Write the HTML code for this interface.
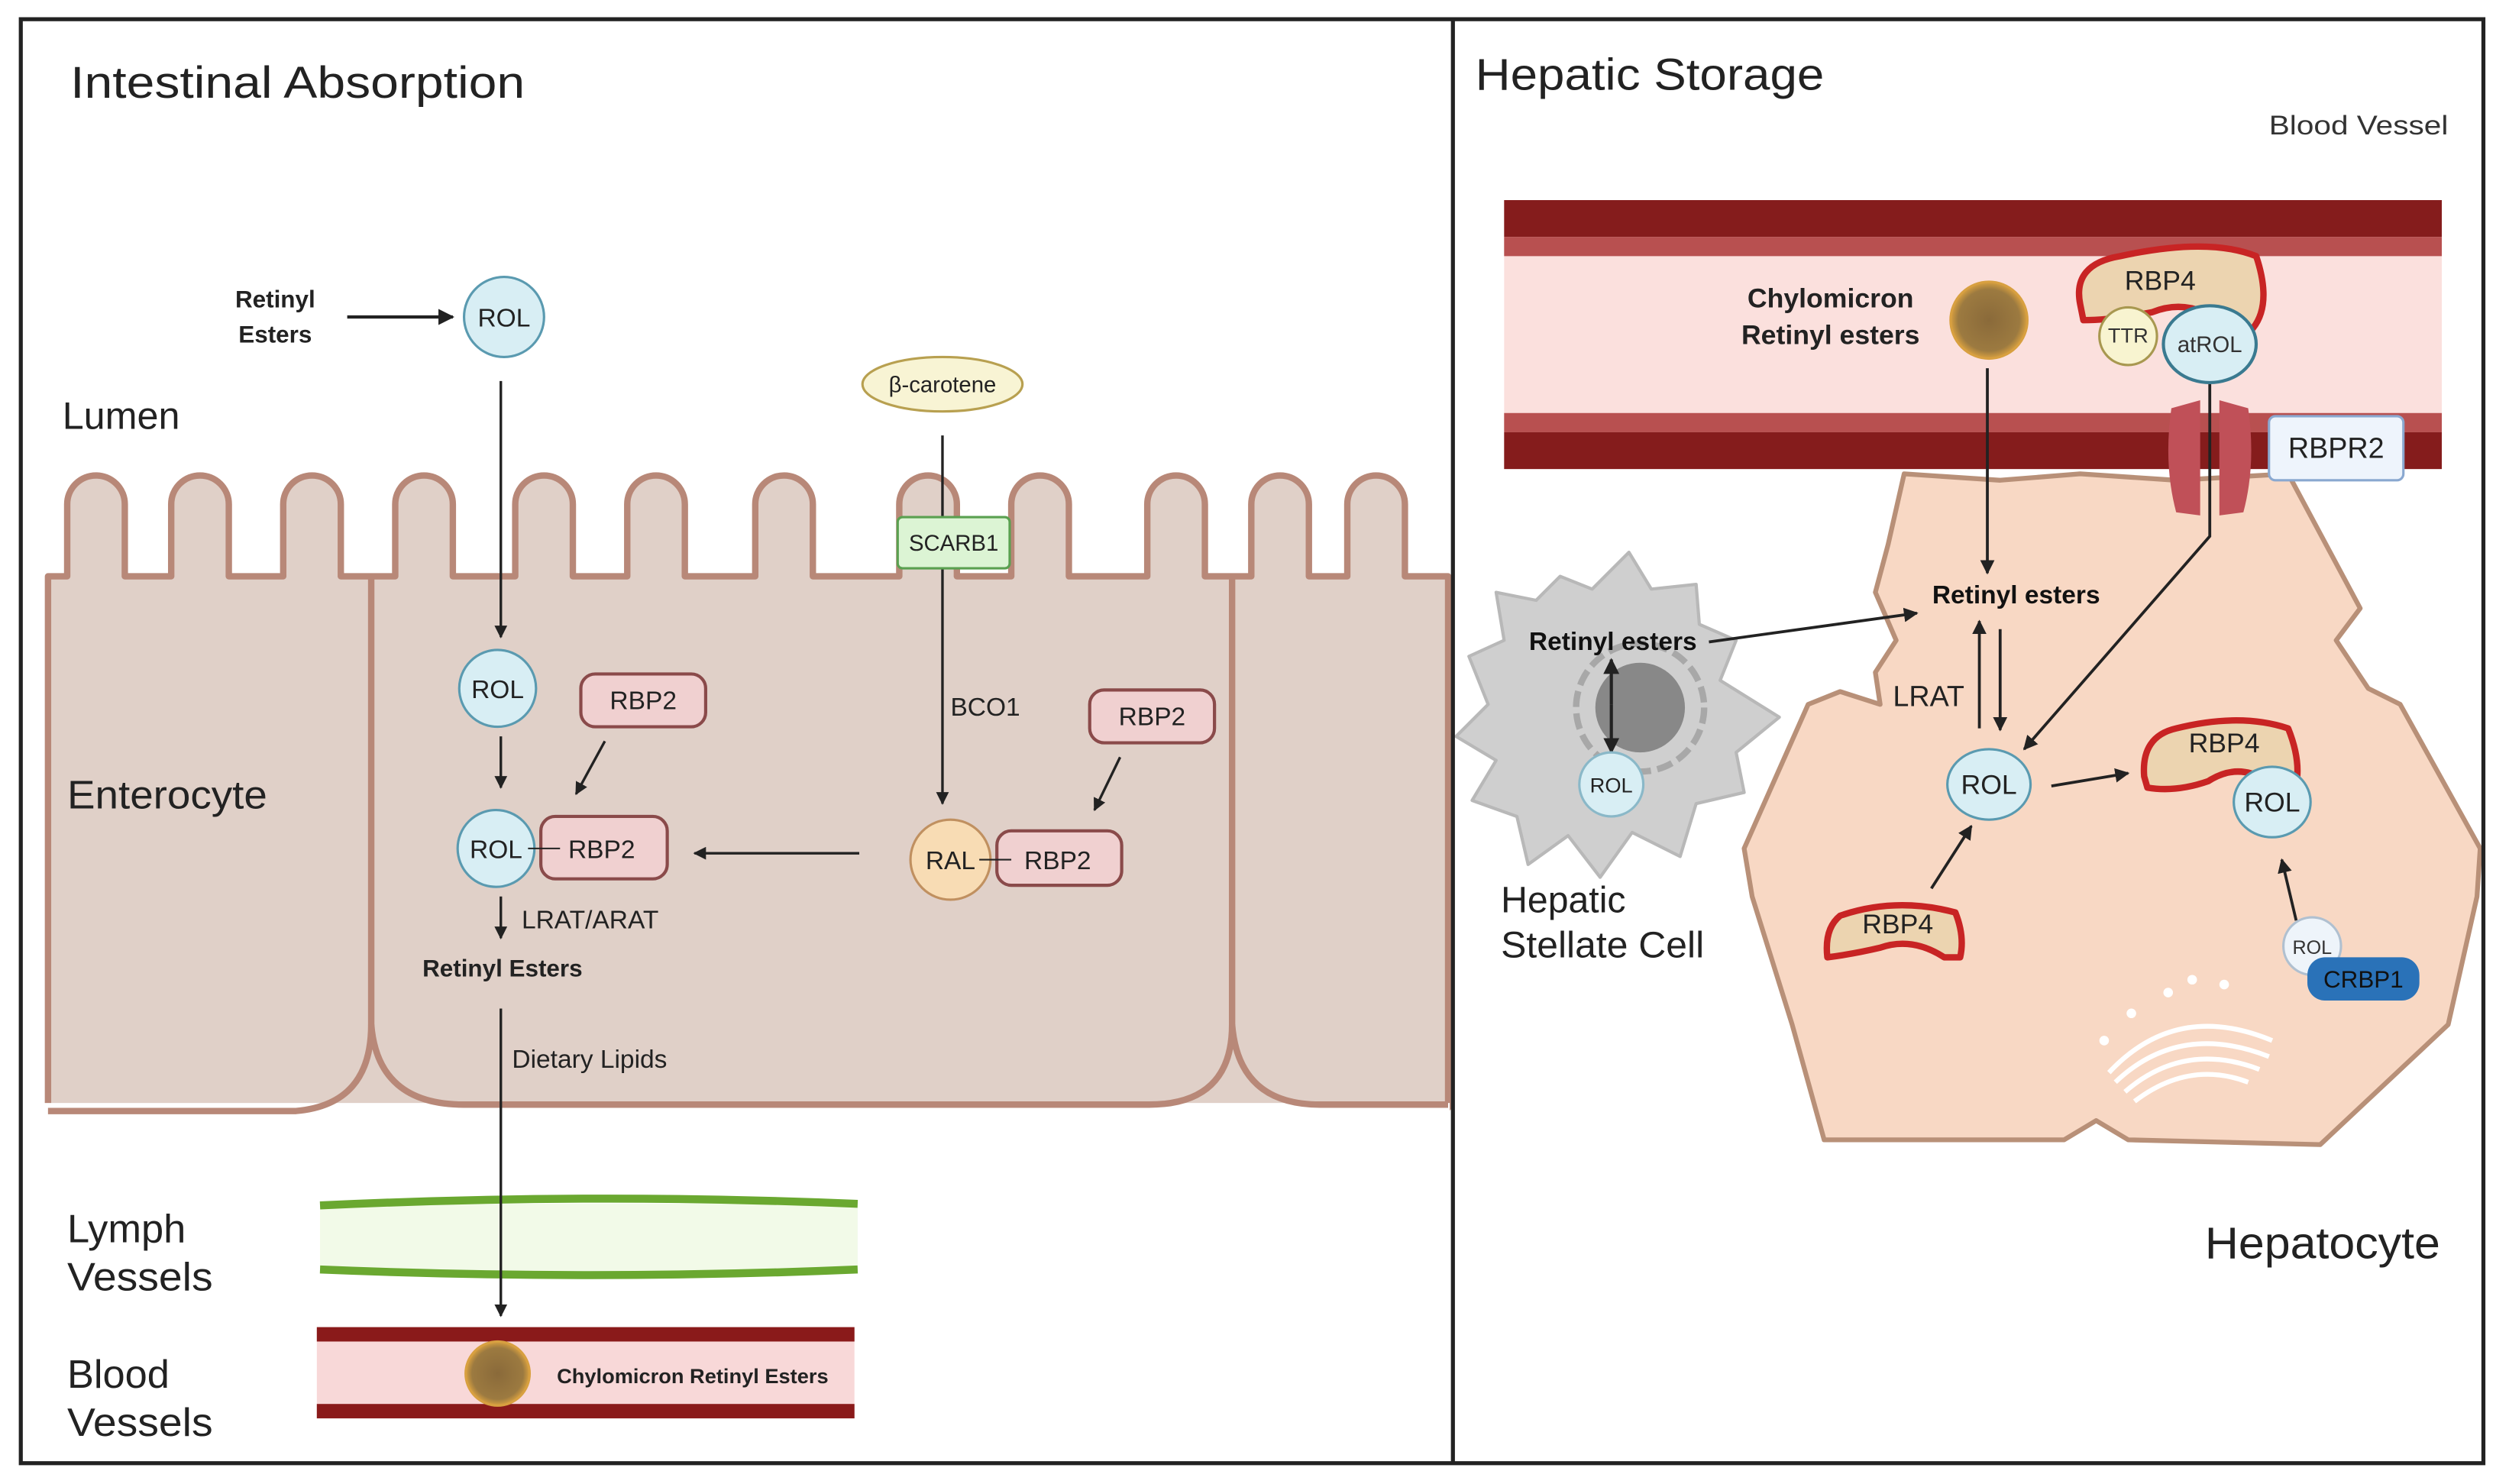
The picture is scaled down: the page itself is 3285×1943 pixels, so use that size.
<!DOCTYPE html>
<html><head><meta charset="utf-8"><style>
html,body{margin:0;padding:0;background:#fff;}
svg{display:block;}
text{font-family:"Liberation Sans",sans-serif;}
</style></head><body>
<svg width="3285" height="1943" viewBox="0 0 1568 927" preserveAspectRatio="none" xmlns="http://www.w3.org/2000/svg">
<defs>
<marker id="a" viewBox="0 0 10 10" refX="9" refY="5" markerWidth="5" markerHeight="5" orient="auto"><path d="M0,0 L10,5 L0,10 z" fill="#222"/></marker>
<radialGradient id="chy"><stop offset="0" stop-color="#8a6a3a"/><stop offset="0.8" stop-color="#9c7a40"/><stop offset="1" stop-color="#d8a040"/></radialGradient>
</defs>
<rect x="0" y="0" width="1568" height="927" fill="#fff"/>

<text x="44" y="61" font-size="28" fill="#222" textLength="284" lengthAdjust="spacingAndGlyphs">Intestinal Absorption</text>

<path d="M30,690 L30,360
L42,360 L42,315 A18,18 0 0 1 78,315 L78,360
L107,360 L107,315 A18,18 0 0 1 143,315 L143,360
L177,360 L177,315 A18,18 0 0 1 213,315 L213,360
L247,360 L247,315 A18,18 0 0 1 283,315 L283,360
L322,360 L322,315 A18,18 0 0 1 358,315 L358,360
L392,360 L392,315 A18,18 0 0 1 428,315 L428,360
L472,360 L472,315 A18,18 0 0 1 508,315 L508,360
L562,360 L562,315 A18,18 0 0 1 598,315 L598,360
L632,360 L632,315 A18,18 0 0 1 668,315 L668,360
L717,360 L717,315 A18,18 0 0 1 753,315 L753,360
L782,360 L782,315 A18,18 0 0 1 818,315 L818,360
L842,360 L842,315 A18,18 0 0 1 878,315 L878,360 L905,360 L905,692 L30,692 Z" fill="#e0d0c8" stroke="#b88878" stroke-width="4" stroke-linejoin="round"/>
<rect x="26" y="689" width="880" height="12" fill="#fff"/>
<path d="M30,694 L185,694 Q232,690 232,640 L232,360" fill="none" stroke="#b88878" stroke-width="4"/>
<path d="M232,640 Q236,690 290,690 L718,690 Q770,690 770,640 L770,360" fill="none" stroke="#b88878" stroke-width="4"/>
<path d="M770,640 Q774,690 825,690 L905,690" fill="none" stroke="#b88878" stroke-width="4"/>

<text x="39" y="268" font-size="24" fill="#222">Lumen</text>
<text x="42" y="505" font-size="25" fill="#222" textLength="125" lengthAdjust="spacingAndGlyphs">Enterocyte</text>
<text x="42" y="776" font-size="25" fill="#222">Lymph</text>
<text x="42" y="806" font-size="25" fill="#222" textLength="91" lengthAdjust="spacingAndGlyphs">Vessels</text>
<text x="42" y="867" font-size="25" fill="#222">Blood</text>
<text x="42" y="897" font-size="25" fill="#222" textLength="91" lengthAdjust="spacingAndGlyphs">Vessels</text>

<text x="172" y="192" font-size="15" font-weight="bold" fill="#222" text-anchor="middle">Retinyl</text>
<text x="172" y="214" font-size="15" font-weight="bold" fill="#222" text-anchor="middle">Esters</text>
<line x1="217" y1="198" x2="283" y2="198" stroke="#222" stroke-width="2" marker-end="url(#a)"/>
<circle cx="315" cy="198" r="25" fill="#d8eef4" stroke="#5a9ab0" stroke-width="1.5"/>
<text x="315" y="204" font-size="16" text-anchor="middle" fill="#222">ROL</text>

<line x1="313" y1="238" x2="313" y2="398" stroke="#222" stroke-width="1.6" marker-end="url(#a)"/>
<circle cx="311" cy="430" r="24" fill="#d8eef4" stroke="#5a9ab0" stroke-width="1.5"/>
<text x="311" y="436" font-size="16" text-anchor="middle" fill="#222">ROL</text>
<rect x="363" y="421" width="78" height="33" rx="9" fill="#f0d0d0" stroke="#8a4a4a" stroke-width="2"/>
<text x="402" y="443" font-size="16" text-anchor="middle" fill="#222">RBP2</text>
<line x1="313" y1="460" x2="313" y2="492" stroke="#222" stroke-width="1.6" marker-end="url(#a)"/>
<line x1="378" y1="463" x2="360" y2="496" stroke="#222" stroke-width="1.6" marker-end="url(#a)"/>
<rect x="338" y="510" width="79" height="39" rx="9" fill="#f0d0d0" stroke="#8a4a4a" stroke-width="2"/>
<circle cx="310" cy="530" r="24" fill="#d8eef4" stroke="#5a9ab0" stroke-width="1.5"/>
<text x="310" y="536" font-size="16" text-anchor="middle" fill="#222">ROL</text>
<line x1="330" y1="530" x2="350" y2="530" stroke="#222" stroke-width="1"/>
<text x="376" y="536" font-size="16" text-anchor="middle" fill="#222">RBP2</text>
<line x1="537" y1="533" x2="434" y2="533" stroke="#222" stroke-width="1.6" marker-end="url(#a)"/>
<line x1="313" y1="560" x2="313" y2="586" stroke="#222" stroke-width="1.6" marker-end="url(#a)"/>
<text x="326" y="580" font-size="16" fill="#222">LRAT/ARAT</text>
<text x="314" y="610" font-size="15" font-weight="bold" fill="#222" text-anchor="middle">Retinyl Esters</text>
<text x="320" y="667" font-size="16" fill="#222">Dietary Lipids</text>

<ellipse cx="589" cy="240" rx="50" ry="17" fill="#f8f4d4" stroke="#b8a050" stroke-width="1.5"/>
<text x="589" y="245" font-size="14" text-anchor="middle" fill="#222">β-carotene</text>
<line x1="589" y1="272" x2="589" y2="502" stroke="#222" stroke-width="1.6" marker-end="url(#a)"/>
<rect x="561" y="323" width="70" height="32" rx="3" fill="#dcf4d4" stroke="#5aa050" stroke-width="1.5"/>
<text x="596" y="344" font-size="14" text-anchor="middle" fill="#222">SCARB1</text>
<text x="594" y="447" font-size="16" fill="#222">BCO1</text>
<rect x="681" y="431" width="78" height="33" rx="9" fill="#f0d0d0" stroke="#8a4a4a" stroke-width="2"/>
<text x="720" y="453" font-size="16" text-anchor="middle" fill="#222">RBP2</text>
<line x1="700" y1="473" x2="684" y2="506" stroke="#222" stroke-width="1.6" marker-end="url(#a)"/>
<rect x="623" y="519" width="78" height="34" rx="9" fill="#f0d0d0" stroke="#8a4a4a" stroke-width="2"/>
<circle cx="594" cy="537" r="25" fill="#f8dcb4" stroke="#c09060" stroke-width="1.5"/>
<text x="594" y="543" font-size="16" text-anchor="middle" fill="#222">RAL</text>
<line x1="612" y1="537" x2="632" y2="537" stroke="#222" stroke-width="1"/>
<text x="661" y="543" font-size="16" text-anchor="middle" fill="#222">RBP2</text>

<rect x="200" y="752" width="336" height="42" fill="#f2fae8"/>
<path d="M200,753 Q370,745 536,752" fill="none" stroke="#6aa830" stroke-width="5"/>
<path d="M200,793 Q370,800 536,793" fill="none" stroke="#6aa830" stroke-width="5"/>
<line x1="313" y1="630" x2="313" y2="822" stroke="#222" stroke-width="1.6" marker-end="url(#a)"/>
<rect x="198" y="830" width="336" height="56" fill="#f8d8d8"/>
<rect x="198" y="829" width="336" height="9" fill="#8a1a1a"/>
<rect x="198" y="877" width="336" height="9" fill="#8a1a1a"/>
<circle cx="311" cy="858" r="20" fill="url(#chy)" stroke="#d8a040" stroke-width="1.5"/>
<text x="348" y="864" font-size="13" font-weight="bold" fill="#222">Chylomicron Retinyl Esters</text>

<!-- RIGHT PANEL -->
<text x="922" y="56" font-size="28" fill="#222" textLength="218" lengthAdjust="spacingAndGlyphs">Hepatic Storage</text>
<text x="1418" y="84" font-size="17" fill="#333" textLength="112" lengthAdjust="spacingAndGlyphs">Blood Vessel</text>

<rect x="940" y="125" width="586" height="168" fill="#fbe0dd"/>
<rect x="940" y="125" width="586" height="23" fill="#851c1c"/>
<rect x="940" y="148" width="586" height="12" fill="#b85050"/>
<rect x="940" y="258" width="586" height="12" fill="#b85050"/>
<rect x="940" y="270" width="586" height="23" fill="#851c1c"/>

<polygon points="1190,296 1250,300 1300,296 1360,300 1430,296 1475,380 1460,400 1480,430 1500,440 1550,530 1548,560 1530,640 1450,715 1330,712 1310,700 1290,712 1140,712 1120,640 1095,560 1090,530 1130,440 1150,432 1175,440 1172,420 1185,400 1172,370 1180,340" fill="#f8d8c4" stroke="#b89078" stroke-width="3" stroke-linejoin="round"/>

<path d="M1357,255 L1375,250 L1375,322 L1360,320 Q1352,290 1357,255 Z" fill="#c05058"/>
<path d="M1387,250 L1405,255 Q1410,290 1402,320 L1387,322 Z" fill="#c05058"/>
<rect x="1418" y="260" width="84" height="40" rx="4" fill="#eef4fc" stroke="#8aa8d0" stroke-width="1.5"/>
<text x="1460" y="286" font-size="18" text-anchor="middle" fill="#222">RBPR2</text>

<text x="1144" y="192" font-size="17" font-weight="bold" fill="#222" text-anchor="middle">Chylomicron</text>
<text x="1144" y="215" font-size="17" font-weight="bold" fill="#222" text-anchor="middle">Retinyl esters</text>
<circle cx="1243" cy="200" r="24" fill="url(#chy)" stroke="#d8a040" stroke-width="1.5"/>

<path d="M1300,190 Q1295,165 1325,160 Q1380,148 1410,160 Q1420,190 1408,205 L1392,205 Q1370,185 1345,195 Q1320,200 1302,200 Z" fill="#ecd4b0" stroke="#c82424" stroke-width="4" stroke-linejoin="round"/>
<text x="1350" y="181" font-size="17" text-anchor="middle" fill="#222">RBP4</text>
<circle cx="1330" cy="210" r="18" fill="#f8f4d0" stroke="#a89850" stroke-width="1.5"/>
<text x="1330" y="214" font-size="13" text-anchor="middle" fill="#333">TTR</text>
<ellipse cx="1381" cy="215" rx="29" ry="24" fill="#d8eef4" stroke="#3a7a90" stroke-width="2"/>
<text x="1381" y="220" font-size="14" text-anchor="middle" fill="#333">atROL</text>

<polygon points="935,370 960,375 975,360 995,368 1018,345 1032,368 1060,365 1062,390 1085,400 1075,425 1112,448 1085,470 1090,495 1060,502 1050,535 1020,520 1000,548 980,522 955,540 948,510 920,500 935,475 910,460 930,440 918,410 940,400" fill="#cfcfcf" stroke="#b8b8b8" stroke-width="2" stroke-linejoin="round"/>
<circle cx="1025" cy="442" r="40" fill="none" stroke="#a8a8a8" stroke-width="4" stroke-dasharray="10 4"/>
<circle cx="1025" cy="442" r="28" fill="#888"/>
<text x="1008" y="406" font-size="16" font-weight="bold" fill="#111" text-anchor="middle">Retinyl esters</text>
<line x1="1007" y1="440" x2="1007" y2="470" stroke="#222" stroke-width="2" marker-end="url(#a)"/>
<line x1="1007" y1="440" x2="1007" y2="412" stroke="#222" stroke-width="2" marker-end="url(#a)"/>
<circle cx="1007" cy="490" r="20" fill="#d8eef4" stroke="#8ab8c8" stroke-width="1.5"/>
<text x="1007" y="495" font-size="13" text-anchor="middle" fill="#222">ROL</text>
<text x="938" y="570" font-size="23" fill="#222">Hepatic</text>
<text x="938" y="598" font-size="23" fill="#222" textLength="127" lengthAdjust="spacingAndGlyphs">Stellate Cell</text>

<line x1="1068" y1="401" x2="1198" y2="383" stroke="#222" stroke-width="1.8" marker-end="url(#a)"/>
<text x="1260" y="377" font-size="16" font-weight="bold" fill="#111" text-anchor="middle">Retinyl esters</text>
<line x1="1242" y1="230" x2="1242" y2="358" stroke="#222" stroke-width="1.8" marker-end="url(#a)"/>
<polyline points="1381,240 1381,335 1265,468" fill="none" stroke="#222" stroke-width="1.8" marker-end="url(#a)"/>
<line x1="1237" y1="455" x2="1237" y2="388" stroke="#222" stroke-width="1.8" marker-end="url(#a)"/>
<line x1="1250" y1="393" x2="1250" y2="456" stroke="#222" stroke-width="1.8" marker-end="url(#a)"/>
<text x="1183" y="441" font-size="18" fill="#222">LRAT</text>
<ellipse cx="1243" cy="490" rx="26" ry="22" fill="#d8eef4" stroke="#5a9ab0" stroke-width="1.5"/>
<text x="1243" y="496" font-size="17" text-anchor="middle" fill="#222">ROL</text>
<line x1="1282" y1="491" x2="1330" y2="483" stroke="#222" stroke-width="1.8" marker-end="url(#a)"/>

<path d="M1340,485 Q1338,460 1360,455 Q1400,445 1430,455 Q1438,475 1435,490 L1420,490 Q1400,475 1380,488 Q1360,495 1342,492 Z" fill="#ecd4b0" stroke="#c82424" stroke-width="4" stroke-linejoin="round"/>
<text x="1390" y="470" font-size="17" text-anchor="middle" fill="#222">RBP4</text>
<ellipse cx="1420" cy="501" rx="24" ry="22" fill="#d8eef4" stroke="#5a9ab0" stroke-width="1.5"/>
<text x="1420" y="507" font-size="17" text-anchor="middle" fill="#222">ROL</text>
<line x1="1435" y1="575" x2="1426" y2="537" stroke="#222" stroke-width="1.8" marker-end="url(#a)"/>
<circle cx="1445" cy="591" r="18" fill="#eef4fa" stroke="#b0c0d0" stroke-width="1.5"/>
<text x="1445" y="596" font-size="12" text-anchor="middle" fill="#333">ROL</text>
<rect x="1442" y="598" width="70" height="27" rx="11" fill="#2a72b8"/>
<text x="1477" y="617" font-size="15" text-anchor="middle" fill="#111">CRBP1</text>

<path d="M1142,598 Q1140,580 1150,572 Q1185,560 1222,570 Q1228,585 1225,598 L1215,598 Q1195,585 1175,592 Q1158,596 1142,598 Z" fill="#ecd4b0" stroke="#c82424" stroke-width="4" stroke-linejoin="round"/>
<text x="1186" y="583" font-size="17" text-anchor="middle" fill="#222">RBP4</text>
<line x1="1207" y1="555" x2="1232" y2="516" stroke="#222" stroke-width="1.8" marker-end="url(#a)"/>

<g fill="none" stroke="#fff" stroke-width="3">
<path d="M1318,670 Q1360,625 1420,650"/>
<path d="M1322,676 Q1362,638 1418,660"/>
<path d="M1328,682 Q1365,650 1412,668"/>
<path d="M1334,688 Q1368,662 1405,676"/>
</g>
<g fill="#fff"><circle cx="1332" cy="633" r="3"/><circle cx="1355" cy="620" r="3"/><circle cx="1370" cy="612" r="3"/><circle cx="1390" cy="615" r="3"/><circle cx="1315" cy="650" r="3"/></g>
<text x="1378" y="786" font-size="28" fill="#222" textLength="147" lengthAdjust="spacingAndGlyphs">Hepatocyte</text>

<!-- frame on top -->
<rect x="13" y="12" width="1539" height="902" fill="none" stroke="#222" stroke-width="2.5"/>
<line x1="908" y1="12" x2="908" y2="914" stroke="#222" stroke-width="2.5"/>
</svg>
</body></html>
